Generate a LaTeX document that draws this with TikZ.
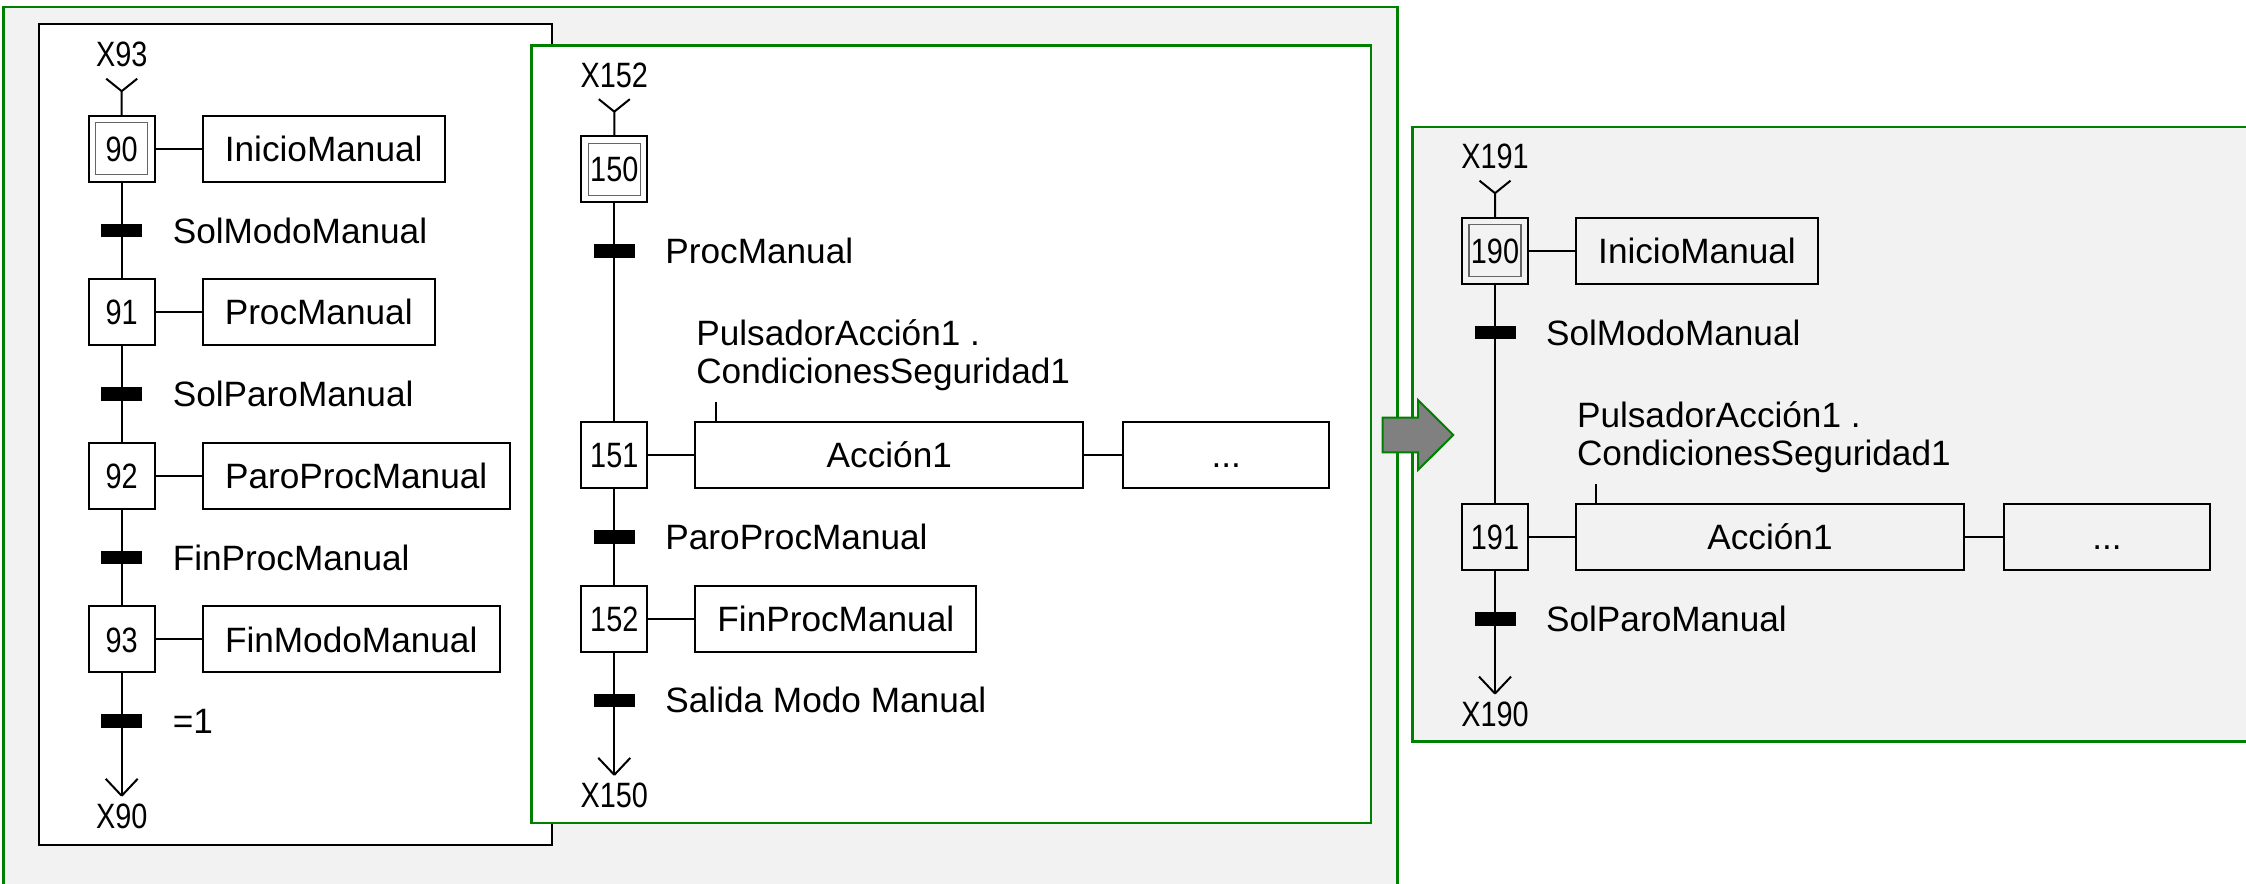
\documentclass[tikz,border=0pt]{standalone}
\usepackage{fontspec}
\setmainfont{Liberation Sans}
\newfontfamily\estrecha{Liberation Sans}[FakeStretch=0.82]
\usetikzlibrary{positioning}
\definecolor{verde}{RGB}{0,128,0}
\definecolor{fondo}{RGB}{242,242,242}
\definecolor{flecha}{RGB}{128,128,128}
\newcommand{\gfont}{\fontsize{8.8}{9.5}\selectfont}

\begin{document}
\begin{tikzpicture}[x=0.25pt, y=-0.25pt, line width=0.5pt, font=\gfont,
  etapa/.style={draw, minimum size=16.5pt, inner sep=0pt, outer sep=0pt, text height=6.3pt, text depth=0pt, font={\estrecha\gfont}},
  inicial/.style={etapa, path picture={\draw[black!60, line width=0.3pt] ([shift={(1.75pt,-1.75pt)}]path picture bounding box.north west) rectangle ([shift={(-1.75pt,1.75pt)}]path picture bounding box.south east);}},
  accion/.style={draw, minimum height=16.5pt, inner sep=0pt, outer sep=0pt, text height=6.3pt, text depth=0pt},
  trans/.style={fill=black, minimum width=10.25pt, minimum height=3.4pt, inner sep=0pt, outer sep=0pt},
  texto/.style={inner sep=0pt, text height=6.3pt, text depth=0pt},
  marca/.style={texto, font={\estrecha\gfont}},
  receptiv/.style={inner sep=0pt, align=left, anchor=south west},
  marco/.style={draw=verde, line width=0.6pt}]
\def \xl {121.7}
\def \xm {614.3}
\def \xr {1495}

\useasboundingbox (0,0) rectangle (2246,884);
\clip (0,0) rectangle (2246,884);

% frames
\draw [marco, fill=fondo] (3.5,7) rectangle (1397.5,920);
\draw [fill=white] (39,24) rectangle (551.7,845);
\draw [marco, fill=white] (531.5,45.7) rectangle (1371,823.3);
\draw [marco, fill=fondo] (1412.3,127.3) rectangle (2280,741.7);
% gray arrow
\draw [draw=verde, fill=flecha] (1382.6,417.7) -- (1418,417.7) -- (1418,400) -- (1453.2,435) -- (1418,470) -- (1418,452.3) -- (1382.6,452.3) -- cycle;

% left chart
\node [marca] (x93) at (\xl,54.2) {X93};
\coordinate (i90) at (\xl,91.2);
\node [inicial] (s90) at (\xl,148.7) {90};
\node [accion, minimum width=60.5pt, right=12pt of s90] (a90) {InicioManual};
\node [trans] (t90) at (\xl,230.5) {};
\node [texto, right=7.4pt of t90] (c90) {SolModoManual};
\node [etapa] (s91) at (\xl,312.3) {91};
\node [accion, minimum width=58pt, right=12pt of s91] (a91) {ProcManual};
\node [trans] (t91) at (\xl,394.1) {};
\node [texto, right=7.4pt of t91] (c91) {SolParoManual};
\node [etapa] (s92) at (\xl,475.9) {92};
\node [accion, minimum width=76.75pt, right=12pt of s92] (a92) {ParoProcManual};
\node [trans] (t92) at (\xl,557.7) {};
\node [texto, right=7.4pt of t92] (c92) {FinProcManual};
\node [etapa] (s93) at (\xl,639.5) {93};
\node [accion, minimum width=74.25pt, right=12pt of s93] (a93) {FinModoManual};
\node [trans] (t93) at (\xl,721.3) {};
\node [texto, right=7.4pt of t93] (c93) {=1};
\coordinate (o93) at (\xl,795.8);
\node [marca] (x90) at (\xl,815.8) {X90};

\draw (s90) -- (i90) -- ++(-15.5,-12.5) (i90) -- ++(15.5,-12.5);
\draw (s90) -- (t90) -- (s91) -- (t91) -- (s92) -- (t92) -- (s93) -- (t93) -- (o93);
\draw (o93) -- ++(-16,-17) (o93) -- ++(16,-17);
\draw (s90) -- (a90);
\draw (s91) -- (a91);
\draw (s92) -- (a92);
\draw (s93) -- (a93);

% middle chart
\node [marca] (x152) at (\xm,74.7) {X152};
\coordinate (i150) at (\xm,111.7);
\node [inicial] (s150) at (\xm,169.2) {150};
\node [trans] (t150) at (\xm,251) {};
\node [texto, right=7.4pt of t150] (c150) {ProcManual};
\node [etapa] (s151) at (\xm,455) {151};
\node [accion, minimum width=97pt, right=12pt of s151] (a151) {Acción1};
\node [accion, minimum width=51.5pt, right=10pt of a151] (d151) {...};
\node [receptiv] (r151) at ([yshift=7.65pt]a151.north west) {PulsadorAcción1 .\\CondicionesSeguridad1};
\coordinate (k151) at ([xshift=5.1pt]a151.north west);
\coordinate (q151) at ([xshift=5.1pt,yshift=5pt]a151.north west);
\node [trans] (t151) at (\xm,536.8) {};
\node [texto, right=7.4pt of t151] (c151) {ParoProcManual};
\node [etapa] (s152) at (\xm,618.6) {152};
\node [accion, minimum width=70.25pt, right=12pt of s152] (a152) {FinProcManual};
\node [trans] (t152) at (\xm,700.4) {};
\node [texto, right=7.4pt of t152] (c152) {Salida Modo Manual};
\coordinate (o152) at (\xm,774.9);
\node [marca] (x150) at (\xm,794.9) {X150};

\draw (s150) -- (i150) -- ++(-15.5,-12.5) (i150) -- ++(15.5,-12.5);
\draw (s150) -- (t150) -- (s151) -- (t151) -- (s152) -- (t152) -- (o152);
\draw (o152) -- ++(-16,-17) (o152) -- ++(16,-17);
\draw (s151) -- (a151);
\draw (a151) -- (d151);
\draw (k151) -- (q151);
\draw (s152) -- (a152);

% right chart
\node [marca] (x191) at (\xr,156.2) {X191};
\coordinate (i190) at (\xr,193.2);
\node [inicial] (s190) at (\xr,250.7) {190};
\node [accion, minimum width=60.5pt, right=12pt of s190] (a190) {InicioManual};
\node [trans] (t190) at (\xr,332.5) {};
\node [texto, right=7.4pt of t190] (c190) {SolModoManual};
\node [etapa] (s191) at (\xr,537.3) {191};
\node [accion, minimum width=97pt, right=12pt of s191] (a191) {Acción1};
\node [accion, minimum width=51.5pt, right=10pt of a191] (d191) {...};
\node [receptiv] (r191) at ([yshift=7.65pt]a191.north west) {PulsadorAcción1 .\\CondicionesSeguridad1};
\coordinate (k191) at ([xshift=5.1pt]a191.north west);
\coordinate (q191) at ([xshift=5.1pt,yshift=5pt]a191.north west);
\node [trans] (t191) at (\xr,619.1) {};
\node [texto, right=7.4pt of t191] (c191) {SolParoManual};
\coordinate (o191) at (\xr,693.6);
\node [marca] (x190) at (\xr,713.6) {X190};

\draw (s190) -- (i190) -- ++(-15.5,-12.5) (i190) -- ++(15.5,-12.5);
\draw (s190) -- (t190) -- (s191) -- (t191) -- (o191);
\draw (o191) -- ++(-16,-17) (o191) -- ++(16,-17);
\draw (s190) -- (a190);
\draw (s191) -- (a191);
\draw (a191) -- (d191);
\draw (k191) -- (q191);

\end{tikzpicture}
\end{document}
